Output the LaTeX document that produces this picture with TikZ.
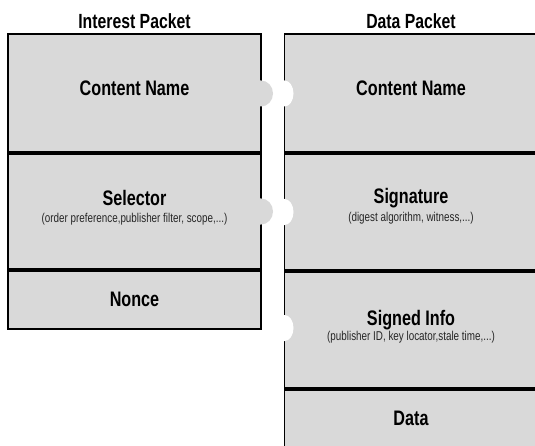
\documentclass[tikz,border=0pt]{standalone}
\usepackage{fontspec}
\newfontfamily\condfont[FakeStretch=0.77]{Liberation Sans}
\usetikzlibrary{positioning}
\definecolor{fieldgrey}{HTML}{D9D9D9}

\begin{document}
\begin{tikzpicture}[
    x=1pt, y=1pt,
    field/.style={draw, line width=1.5pt, fill=fieldgrey, outer sep=0pt, inner sep=0pt, minimum width=253pt, minimum height=#1},
    sepline/.style={line width=3.5pt},
    heading/.style={anchor=base, inner sep=0pt, font=\condfont\bfseries\fontsize{20.5}{22}\selectfont},
    fieldname/.style={anchor=base, inner sep=0pt, font=\condfont\bfseries\fontsize{21}{23}\selectfont},
    fieldnote/.style={anchor=base, inner sep=0pt, text=black!85, font=\condfont\fontsize{12.8}{14}\selectfont}
]
    \clip (0,0) rectangle (535,445);
    \fill[white] (0,0) rectangle (535,445);

    % Packet headings
    \node[heading] (ihead) at (134.5,416) {Interest Packet};
    \node[heading] (dhead) at (411,416) {Data Packet};

    % Interest packet fields
    \node[field=119pt] (icn) at (134.5,351.5) {};
    \node[field=117pt] (isel) at (134.5,233.5) {};
    \node[field=59pt] (inon) at (134.5,145.5) {};

    % Data packet fields
    \node[field=119pt] (dcn) at (411,351.5) {};
    \node[field=118pt] (dsig) at (411,233) {};
    \node[field=118pt] (dsi) at (411,115) {};
    \node[field=61pt] (dat) at (411,25.5) {};

    % Thick separators between fields
    \draw[sepline] (icn.south west) -- (icn.south east);
    \draw[sepline] (isel.south west) -- (isel.south east);
    \draw[sepline] (dcn.south west) -- (dcn.south east);
    \draw[sepline] (dsig.south west) -- (dsig.south east);
    \draw[sepline] (dsi.south west) -- (dsi.south east);

    % Tabs on the interest packet
    \fill[fieldgrey] ([xshift=-1.5pt,yshift=13pt]icn.east) -- ([yshift=13pt]icn.east)
        arc[start angle=90, end angle=-90, x radius=12pt, y radius=13pt]
        -- ([xshift=-1.5pt,yshift=-13pt]icn.east) -- cycle;
    \fill[fieldgrey] ([xshift=-1.5pt,yshift=13pt]isel.east) -- ([yshift=13pt]isel.east)
        arc[start angle=90, end angle=-90, x radius=12pt, y radius=13pt]
        -- ([xshift=-1.5pt,yshift=-13pt]isel.east) -- cycle;

    % Notches in the data packet
    \fill[white] ([xshift=-1.5pt,yshift=13pt]dcn.west) -- ([yshift=13pt]dcn.west)
        arc[start angle=90, end angle=-90, x radius=9pt, y radius=13pt]
        -- ([xshift=-1.5pt,yshift=-13pt]dcn.west) -- cycle;
    \fill[white] ([xshift=-1.5pt,yshift=13pt]dsig.west) -- ([yshift=13pt]dsig.west)
        arc[start angle=90, end angle=-90, x radius=9pt, y radius=13pt]
        -- ([xshift=-1.5pt,yshift=-13pt]dsig.west) -- cycle;
    \fill[white] ([xshift=-1.5pt,yshift=15pt]dsi.west) -- ([yshift=15pt]dsi.west)
        arc[start angle=90, end angle=-90, x radius=9pt, y radius=13pt]
        -- ([xshift=-1.5pt,yshift=-11pt]dsi.west) -- cycle;

    % Field labels
    \node[fieldname] (icnt) at (134.5,349.5) {Content Name};
    \node[fieldname] (iselt) at (134.5,240) {Selector};
    \node[fieldnote] (iseln) at (134.5,222.5) {(order preference,publisher filter, scope,...)};
    \node[fieldname] (inont) at (134.5,139) {Nonce};

    \node[fieldname] (dcnt) at (411,349.5) {Content Name};
    \node[fieldname] (dsigt) at (411,241) {Signature};
    \node[fieldnote] (dsign) at (411,223) {(digest algorithm, witness,...)};
    \node[fieldname] (dsit) at (411,120) {Signed Info};
    \node[fieldnote] (dsin) at (411,105) {(publisher ID, key locator,stale time,...)};
    \node[fieldname] (datt) at (411,20) {Data};

\end{tikzpicture}
\end{document}
